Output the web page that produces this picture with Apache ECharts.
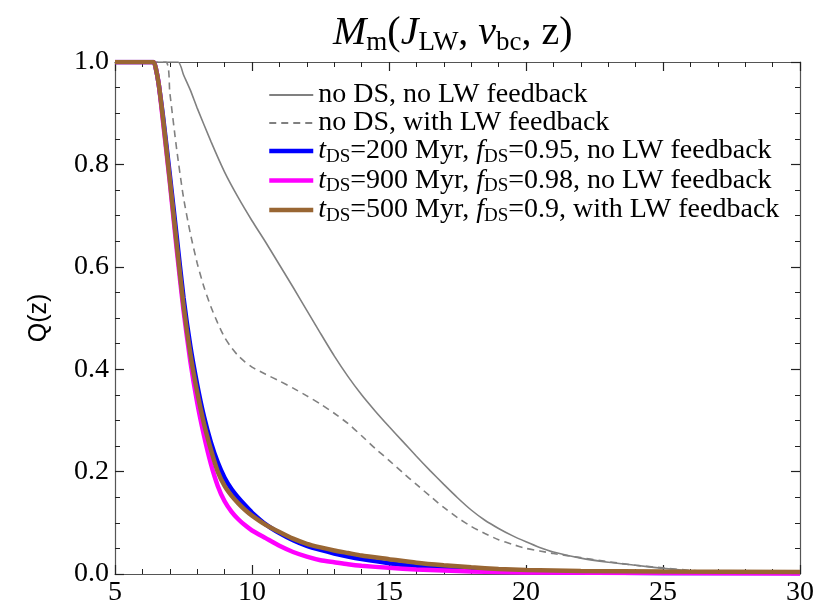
<!DOCTYPE html>
<html>
<head>
<meta charset="utf-8">
<script src="https://cdn.jsdelivr.net/npm/echarts@6/dist/echarts.min.js"></script>
<style>
  html, body { margin: 0; padding: 0; background: #fff; }
  #chart { width: 822px; height: 610px; }
</style>
</head>
<body>
<div id="chart"></div>
<script>
// Redshift axis and filling-fraction axis tick labels
const xTicks = [5, 10, 15, 20, 25, 30];
const yTicks = [0.0, 0.2, 0.4, 0.6, 0.8, 1.0];

// Q(z) curves: [z, Q]
const noDsNoLw = [[5,1],[7.3,1],[7.5,0.975],[7.75,0.945],[8,0.91],[8.5,0.845],[9,0.785],[9.5,0.735],[10,0.69],[10.5,0.648],[11,0.604],[11.5,0.56],[12,0.515],[12.5,0.47],[13,0.426],[13.5,0.386],[14,0.35],[14.5,0.318],[15,0.288],[15.5,0.259],[16,0.23],[16.5,0.202],[17,0.175],[17.5,0.149],[18,0.125],[18.5,0.105],[19,0.089],[19.5,0.075],[20,0.063],[20.5,0.052],[21,0.043],[22,0.031],[23,0.023],[24,0.017],[25,0.011],[26,0.006],[27,0.003],[28,0.002],[30,0.001]];
const noDsWithLw = [[5,1],[6.85,1],[7,0.94],[7.25,0.83],[7.5,0.735],[7.75,0.665],[8,0.607],[8.25,0.56],[8.5,0.522],[8.75,0.49],[9,0.462],[9.25,0.442],[9.5,0.426],[9.75,0.414],[10,0.404],[10.5,0.39],[11,0.377],[11.5,0.363],[12,0.348],[12.5,0.332],[13,0.314],[13.5,0.294],[14,0.27],[14.5,0.245],[15,0.222],[15.5,0.198],[16,0.175],[16.5,0.152],[17,0.13],[17.5,0.11],[18,0.093],[18.5,0.079],[19,0.067],[19.5,0.058],[20,0.05],[20.5,0.045],[21,0.04],[22,0.032],[23,0.024],[24,0.017],[25,0.012],[26,0.007],[27,0.004],[28,0.002],[30,0.001]];
const ds200 = [[5,1],[6.4,1],[6.5,0.985],[6.6,0.955],[6.75,0.895],[7,0.78],[7.25,0.66],[7.5,0.54],[7.75,0.445],[8,0.37],[8.25,0.307],[8.5,0.257],[8.75,0.218],[9,0.188],[9.25,0.166],[9.5,0.149],[9.75,0.134],[10,0.12],[10.5,0.097],[11,0.08],[11.5,0.066],[12,0.055],[12.5,0.047],[13,0.04],[13.5,0.034],[14,0.029],[15,0.021],[16,0.015],[17,0.011],[18,0.008],[20,0.005],[22,0.003],[25,0.002],[30,0.002]];
const ds900 = [[5,1],[6.4,1],[6.5,0.985],[6.6,0.955],[6.75,0.885],[7,0.765],[7.25,0.635],[7.5,0.515],[7.75,0.415],[8,0.335],[8.25,0.27],[8.5,0.215],[8.75,0.172],[9,0.142],[9.25,0.122],[9.5,0.107],[9.75,0.095],[10,0.085],[10.5,0.07],[11,0.055],[11.5,0.043],[12,0.034],[12.5,0.027],[13,0.023],[13.5,0.019],[14,0.016],[15,0.012],[16,0.009],[17,0.007],[18,0.005],[20,0.003],[25,0.002],[30,0.001]];
const ds500 = [[5,1],[6.4,1],[6.5,0.985],[6.6,0.955],[6.75,0.89],[7,0.77],[7.25,0.645],[7.5,0.525],[7.75,0.43],[8,0.355],[8.25,0.293],[8.5,0.243],[8.75,0.2],[9,0.172],[9.25,0.153],[9.5,0.138],[9.75,0.125],[10,0.114],[10.5,0.096],[11,0.082],[11.5,0.069],[12,0.059],[12.5,0.052],[13,0.046],[13.5,0.041],[14,0.036],[15,0.029],[16,0.022],[17,0.017],[18,0.013],[19,0.01],[20,0.008],[22,0.006],[25,0.005],[30,0.004]];

// Legend entries (plain name -> rich-text label)
const seriesNames = ['noDsNoLw', 'noDsWithLw', 'ds200', 'ds900', 'ds500'];
const legendLabels = {
  noDsNoLw: '{r|no DS, no LW feedback}',
  noDsWithLw: '{r|no DS, with LW feedback}',
  ds200: '{i|t}{s|DS}{r|=200 Myr, }{i|f}{s|DS}{r|=0.95, no LW feedback}',
  ds900: '{i|t}{s|DS}{r|=900 Myr, }{i|f}{s|DS}{r|=0.98, no LW feedback}',
  ds500: '{i|t}{s|DS}{r|=500 Myr, }{i|f}{s|DS}{r|=0.9, with LW feedback}'
};

const serif = '"Liberation Serif", "DejaVu Serif", serif';
const frameColor = '#555';

const richLegend = {
  r: { fontFamily: serif, fontSize: 28, color: '#000', lineHeight: 31 },
  i: { fontFamily: serif, fontSize: 28, fontStyle: 'italic', color: '#000', lineHeight: 31 },
  s: { fontFamily: serif, fontSize: 19, color: '#000', lineHeight: 27, verticalAlign: 'bottom' }
};

const chart = echarts.init(document.getElementById('chart'), null, { renderer: 'canvas' });

function mkAxisX(show) {
  return {
    type: 'value', min: 5, max: 30, interval: 5,
    position: show ? 'bottom' : 'top',
    axisLine: { show: true, onZero: false, lineStyle: { color: frameColor, width: 1.2 } },
    axisTick: { show: true, inside: true, length: 9, lineStyle: { color: '#222', width: 1.2 } },
    minorTick: { show: true, splitNumber: 5, length: 5, lineStyle: { color: '#222', width: 1 } },
    splitLine: { show: false },
    axisLabel: { show: show, margin: 5, fontFamily: serif, fontSize: 28, color: '#000',
      formatter: v => xTicks.includes(v) ? String(v) : '' }
  };
}
function mkAxisY(show) {
  return {
    type: 'value', min: 0, max: 1, interval: 0.2,
    position: show ? 'left' : 'right',
    name: show ? 'Q(z)' : '',
    nameLocation: 'middle', nameGap: 63, nameRotate: 90,
    nameTextStyle: { fontFamily: '"Liberation Sans", Arial, sans-serif', fontSize: 25, color: '#000' },
    axisLine: { show: true, onZero: false, lineStyle: { color: frameColor, width: 1.2 } },
    axisTick: { show: true, inside: true, length: 9, lineStyle: { color: '#222', width: 1.2 } },
    minorTick: { show: true, splitNumber: 4, length: 5, lineStyle: { color: '#222', width: 1 } },
    splitLine: { show: false },
    axisLabel: { show: show, margin: 6, fontFamily: serif, fontSize: 28, color: '#000',
      formatter: v => yTicks.some(t => Math.abs(t - v) < 1e-9) ? v.toFixed(1) : '' }
  };
}

const seriesStyle = {
  noDsNoLw: { color: '#808080', width: 1.6, type: 'solid' },
  noDsWithLw: { color: '#808080', width: 1.6, type: [7, 5] },
  ds200: { color: '#0000ff', width: 4.5, type: 'solid' },
  ds900: { color: '#ff00ff', width: 4.5, type: 'solid' },
  ds500: { color: '#996633', width: 4.5, type: 'solid' }
};
const seriesData = { noDsNoLw, noDsWithLw, ds200, ds900, ds500 };

chart.setOption({
  animation: false,
  backgroundColor: '#fff',
  title: {
    text: '{i|M}{s|m}{r|(}{i|J}{s|LW}{r|, }{i|v}{s|bc}{r|, z)}',
    left: 328, top: 5,
    textStyle: {
      fontWeight: 'normal',
      rich: {
        r: { fontFamily: serif, fontSize: 40, fontWeight: 'normal', color: '#000', lineHeight: 46 },
        i: { fontFamily: serif, fontSize: 40, fontStyle: 'italic', fontWeight: 'normal', color: '#000', lineHeight: 46 },
        s: { fontFamily: serif, fontSize: 27, fontWeight: 'normal', color: '#000', lineHeight: 42, verticalAlign: 'bottom' }
      }
    }
  },
  legend: {
    orient: 'vertical', left: 262, top: 76,
    itemWidth: 44, itemHeight: 14, itemGap: 0,
    data: seriesNames.map(n => ({
      name: n,
      lineStyle: { width: seriesStyle[n].width < 2 ? 2.2 : 4.5 }
    })),
    formatter: name => legendLabels[name],
    itemStyle: { opacity: 0 },
    textStyle: { rich: richLegend }
  },
  grid: { left: 115, right: 22, top: 62, bottom: 36, containLabel: false },
  xAxis: [mkAxisX(true), mkAxisX(false)],
  yAxis: [mkAxisY(true), mkAxisY(false)],
  series: seriesNames.map(n => ({
    name: n,
    type: 'line',
    xAxisIndex: 0, yAxisIndex: 0,
    data: seriesData[n],
    showSymbol: false, symbol: 'none',
    smooth: 0.2,
    clip: true,
    lineStyle: seriesStyle[n],
    itemStyle: { color: seriesStyle[n].color }
  }))
});
</script>
</body>
</html>
